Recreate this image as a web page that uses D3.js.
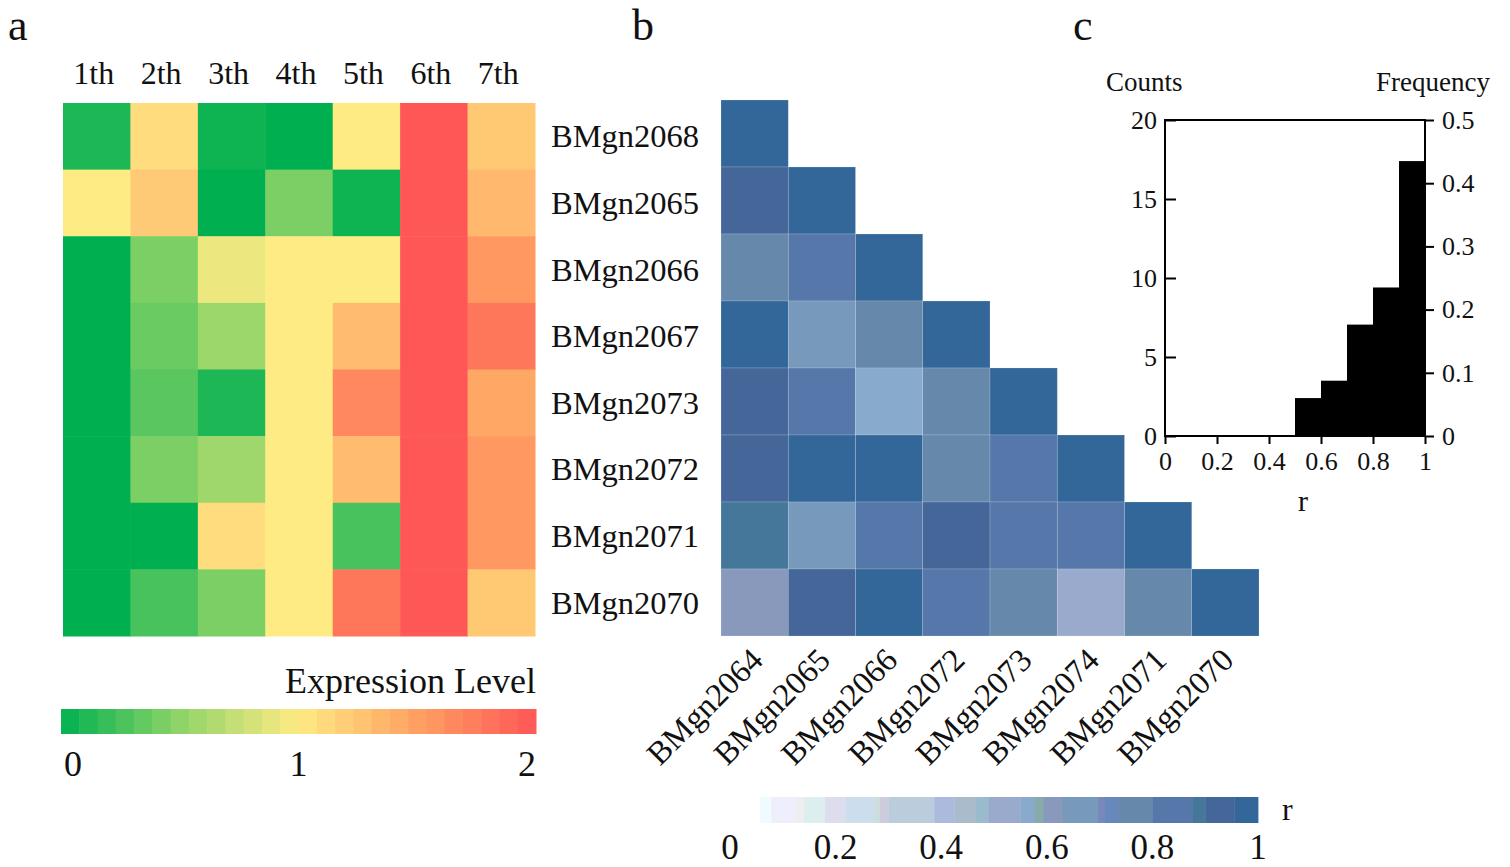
<!DOCTYPE html>
<html>
<head>
<meta charset="utf-8">
<script src="https://cdn.jsdelivr.net/npm/d3@7"></script>
<style>
  html, body { margin: 0; padding: 0; background: #fff; }
  svg text { font-family: "Liberation Serif", "Times New Roman", serif; fill: #111; }
</style>
</head>
<body>
<div id="chart"></div>
<script>
// ── Data ────────────────────────────────────────────────────
const stages = ['1th', '2th', '3th', '4th', '5th', '6th', '7th'];
const genes = ['BMgn2068', 'BMgn2065', 'BMgn2066', 'BMgn2067', 'BMgn2073', 'BMgn2072', 'BMgn2071', 'BMgn2070'];

// expression level per gene (rows) and stage (columns)
const expression = [
  [0.10, 1.10, 0.05, 0.00, 1.00, 2.00, 1.23],
  [1.00, 1.22, 0.00, 0.43, 0.05, 2.00, 1.34],
  [0.00, 0.43, 0.92, 1.00, 1.00, 2.00, 1.55],
  [0.00, 0.37, 0.56, 1.00, 1.32, 2.00, 1.78],
  [0.00, 0.31, 0.10, 1.00, 1.66, 2.00, 1.45],
  [0.00, 0.43, 0.57, 1.00, 1.32, 2.00, 1.55],
  [0.00, 0.00, 1.10, 1.00, 0.25, 2.00, 1.55],
  [0.00, 0.25, 0.43, 1.00, 1.78, 2.00, 1.23]
];
const exprTicks = [0, 1, 2];

// correlation matrix (lower triangle), rows = genes, columns = corrCols
const corrCols = ['BMgn2064', 'BMgn2065', 'BMgn2066', 'BMgn2072', 'BMgn2073', 'BMgn2074', 'BMgn2071', 'BMgn2070'];
const corr = [
  [1.00],
  [0.92, 1.00],
  [0.76, 0.84, 1.00],
  [0.97, 0.66, 0.77, 1.00],
  [0.91, 0.83, 0.56, 0.75, 1.00],
  [0.92, 0.96, 0.97, 0.76, 0.82, 1.00],
  [0.88, 0.67, 0.84, 0.91, 0.83, 0.82, 1.00],
  [0.61, 0.92, 0.97, 0.83, 0.76, 0.51, 0.75, 1.00]
];
const rTicks = [0, 0.2, 0.4, 0.6, 0.8, 1];
// stepped r palette
const rThresholds = [0.078, 0.125, 0.14, 0.18, 0.219, 0.274, 0.284, 0.30, 0.387, 0.425, 0.466, 0.49,
  0.55, 0.577, 0.594, 0.63, 0.697, 0.71, 0.735, 0.80, 0.876, 0.90, 0.955];
const rColors = ['#eefcff', '#eeeefc', '#eeeeee', '#ddeeee', '#ddddee', '#ccddee', '#ccdddd', '#ccccdd',
  '#bbccdd', '#aabbdd', '#aabbcc', '#99bbcc', '#99aacc', '#88aacc', '#88aaaa', '#8899bb', '#7799bb',
  '#7788bb', '#6688bb', '#6688aa', '#5577aa', '#447799', '#446699', '#336699'];
const rBarStart = 0.057;

// histogram of r
const binEdges = [0, 0.1, 0.2, 0.3, 0.4, 0.5, 0.6, 0.7, 0.8, 0.9, 1.0];
const binCounts = [0, 0, 0, 0, 0, 2.4, 3.5, 7.05, 9.4, 17.4];
const countTicks = [0, 5, 10, 15, 20];
const freqTicks = [0, 0.1, 0.2, 0.3, 0.4, 0.5];
const histXTicks = [0, 0.2, 0.4, 0.6, 0.8, 1];

// ── Setup ───────────────────────────────────────────────────
const W = 1510, H = 867;
const svg = d3.select('#chart').append('svg')
  .attr('width', W).attr('height', H);
svg.append('rect').attr('width', W).attr('height', H).attr('fill', '#fff');

const numFmt = d => d3.format('~g')(d);

// panel letters
[['a', 8], ['b', 632], ['c', 1073]].forEach(([t, x]) => {
  svg.append('text').attr('x', x).attr('y', 40)
    .style('font-size', '44px').text(t);
});

// ── Panel a: expression heatmap ────────────────────────────
const colorA = d3.scaleLinear()
  .domain([0, 0.5, 1, 1.5, 2])
  .range(['#00b050', '#8fd468', '#ffeb84', '#ffa062', '#ff5656'])
  .interpolate(d3.interpolateRgb);

const xA = d3.scaleBand().domain(stages).range([63, 535]);
const yA = d3.scaleBand().domain(genes).range([103, 636]);

const gA = svg.append('g');
expression.forEach((row, i) => {
  gA.selectAll(null)
    .data(row)
    .enter()
    .append('rect')
    .attr('x', (d, j) => xA(stages[j]))
    .attr('y', yA(genes[i]))
    .attr('width', xA.bandwidth() + 0.5)
    .attr('height', yA.bandwidth() + 0.5)
    .attr('fill', d => colorA(d));
});

gA.selectAll('text.stage')
  .data(stages)
  .enter()
  .append('text')
  .attr('class', 'stage')
  .attr('x', d => xA(d) + xA.bandwidth() / 2 - 3)
  .attr('y', 84)
  .attr('text-anchor', 'middle')
  .style('font-size', '32px')
  .text(d => d);

gA.selectAll('text.gene')
  .data(genes)
  .enter()
  .append('text')
  .attr('class', 'gene')
  .attr('x', 551)
  .attr('y', d => yA(d) + yA.bandwidth() / 2)
  .attr('dy', '0.34em')
  .style('font-size', '32.5px')
  .text(d => d);

// colour bar a
const barA = d3.scaleLinear().domain([0, 2]).range([61, 536]);
const nSteps = 26;
const stepVals = d3.range(nSteps).map(k => 2 * k / nSteps);
gA.selectAll('rect.step')
  .data(stepVals)
  .enter()
  .append('rect')
  .attr('class', 'step')
  .attr('x', d => barA(d))
  .attr('y', 709)
  .attr('width', (barA.range()[1] - barA.range()[0]) / nSteps + 0.5)
  .attr('height', 25)
  .attr('fill', d => colorA(d + 1 / nSteps));

gA.append('text').attr('x', 536).attr('y', 693)
  .attr('text-anchor', 'end').style('font-size', '36px')
  .text('Expression Level');

gA.selectAll('text.etick')
  .data(exprTicks)
  .enter()
  .append('text')
  .attr('class', 'etick')
  .attr('x', d => barA(d) + (d === 0 ? 3 : 0))
  .attr('y', 776)
  .attr('text-anchor', (d, i) => i === 0 ? 'start' : (i === exprTicks.length - 1 ? 'end' : 'middle'))
  .style('font-size', '36px')
  .text(d => d);

// ── Panel b: correlation triangle ──────────────────────────
const colorR = d3.scaleThreshold().domain(rThresholds).range(rColors);
const xB = d3.scaleBand().domain(corrCols).range([721, 1259]);
const yB = d3.scaleBand().domain(genes).range([100, 636]);

const gB = svg.append('g');
corr.forEach((row, i) => {
  gB.selectAll(null)
    .data(row)
    .enter()
    .append('rect')
    .attr('x', (d, j) => xB(corrCols[j]))
    .attr('y', yB(genes[i]))
    .attr('width', xB.bandwidth())
    .attr('height', yB.bandwidth())
    .attr('fill', d => colorR(d))
    .attr('stroke', '#dfe8f4')
    .attr('stroke-opacity', 0.35)
    .attr('stroke-width', 0.6);
});

gB.selectAll('text.col')
  .data(corrCols)
  .enter()
  .append('text')
  .attr('class', 'col')
  .attr('transform', d => `translate(${xB(d) + xB.bandwidth() / 2 + 10},662) rotate(-45)`)
  .attr('text-anchor', 'end')
  .style('font-size', '32.5px')
  .text(d => d);

// colour bar r
const barR = d3.scaleLinear().domain([0, 1]).range([730, 1258]);
const rEdges = [rBarStart, ...rThresholds, 1];
gB.selectAll('rect.rstep')
  .data(rColors)
  .enter()
  .append('rect')
  .attr('class', 'rstep')
  .attr('x', (d, i) => barR(rEdges[i]))
  .attr('y', 797)
  .attr('width', (d, i) => barR(rEdges[i + 1]) - barR(rEdges[i]) + 0.4)
  .attr('height', 26)
  .attr('fill', d => d);

gB.append('text').attr('x', 1282).attr('y', 808).attr('dy', '0.36em')
  .style('font-size', '32px').text('r');

gB.selectAll('text.rtick')
  .data(rTicks)
  .enter()
  .append('text')
  .attr('class', 'rtick')
  .attr('x', d => barR(d))
  .attr('y', 859)
  .attr('text-anchor', 'middle')
  .style('font-size', '35px')
  .text(numFmt);

// ── Panel c: histogram ─────────────────────────────────────
const xC = d3.scaleLinear().domain([0, 1]).range([1165, 1425]);
const yC = d3.scaleLinear().domain([0, 20]).range([436, 120]);
const yF = d3.scaleLinear().domain([0, 0.5]).range([436, 120]);
const gC = svg.append('g');

gC.selectAll('rect.bar')
  .data(binCounts)
  .enter()
  .append('rect')
  .attr('class', 'bar')
  .attr('x', (d, i) => xC(binEdges[i]))
  .attr('y', d => yC(d))
  .attr('width', (d, i) => xC(binEdges[i + 1]) - xC(binEdges[i]) + 0.5)
  .attr('height', d => yC(0) - yC(d))
  .attr('fill', '#000');

const styleAxis = g => {
  g.select('.domain').remove();
  g.selectAll('.tick line').attr('stroke', '#000').attr('stroke-width', 2);
  g.selectAll('.tick text')
    .style('font-family', '"Liberation Serif", "Times New Roman", serif')
    .style('font-size', '26px').attr('fill', '#111');
};

gC.append('g')
  .attr('transform', `translate(${xC(0)},0)`)
  .call(d3.axisLeft(yC).tickValues(countTicks).tickSize(-11).tickPadding(8).tickFormat(numFmt))
  .call(styleAxis);

gC.append('g')
  .attr('transform', `translate(${xC(1)},0)`)
  .call(d3.axisRight(yF).tickValues(freqTicks).tickSize(9).tickPadding(8).tickFormat(numFmt))
  .call(styleAxis);

gC.append('g')
  .attr('transform', `translate(0,${yC(0)})`)
  .call(d3.axisBottom(xC).tickValues(histXTicks).tickSize(8).tickPadding(8).tickFormat(numFmt))
  .call(styleAxis);

gC.append('rect')
  .attr('x', xC(0)).attr('y', yC(20))
  .attr('width', xC(1) - xC(0)).attr('height', yC(0) - yC(20))
  .attr('fill', 'none').attr('stroke', '#000').attr('stroke-width', 2);

gC.append('text').attr('x', 1106).attr('y', 91)
  .style('font-size', '27px').text('Counts');
gC.append('text').attr('x', 1490).attr('y', 91)
  .attr('text-anchor', 'end').style('font-size', '27px').text('Frequency');
gC.append('text').attr('x', (xC(0) + xC(1)) / 2 + 8).attr('y', 511)
  .attr('text-anchor', 'middle').style('font-size', '30px').text('r');
</script>
</body>
</html>
